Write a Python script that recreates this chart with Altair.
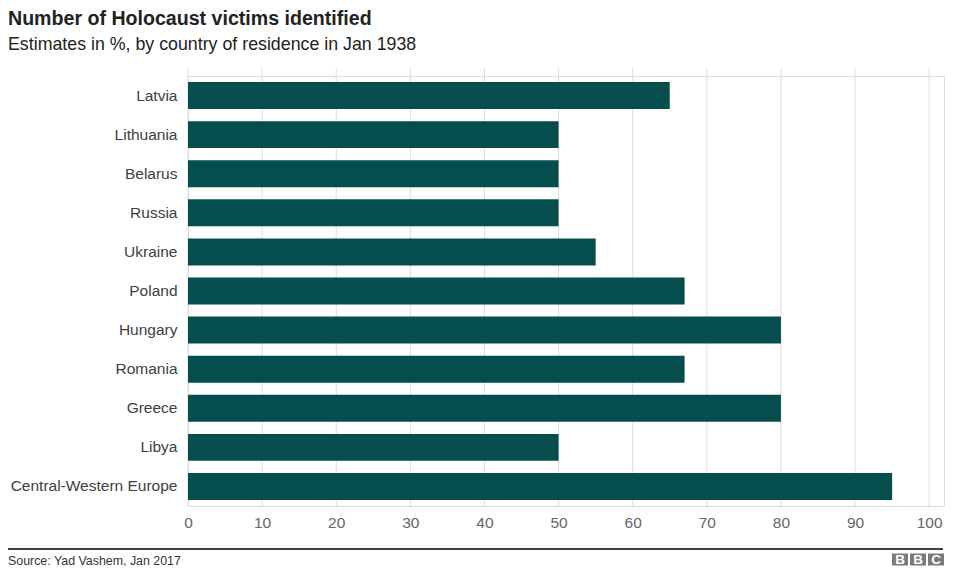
import altair as alt
import pandas as pd

countries = ["Latvia", "Lithuania", "Belarus", "Russia", "Ukraine", "Poland",
             "Hungary", "Romania", "Greece", "Libya", "Central-Western Europe"]
values = [65, 50, 50, 50, 55, 67, 80, 67, 80, 50, 95]
ticks = [0, 10, 20, 30, 40, 50, 60, 70, 80, 90, 100]

title = "Number of Holocaust victims identified"
subtitle = "Estimates in %, by country of residence in Jan 1938"
source = "Source: Yad Vashem, Jan 2017"
logo = ["B", "B", "C"]

FONT = "Liberation Sans"
W, H = 756, 430

df = pd.DataFrame({"country": countries, "value": values})
tdf = pd.DataFrame({"v": ticks})

xscale = alt.Scale(domain=[0, 102], nice=False, zero=True)

grid = alt.Chart(tdf).mark_rule(color="#dddddd", strokeWidth=1).encode(
    x=alt.X("v:Q", scale=xscale),
    y=alt.value(-8),
    y2=alt.value(H),
)

bars = alt.Chart(df).mark_bar(color="#064e4e").encode(
    x=alt.X("value:Q", scale=xscale,
            axis=alt.Axis(values=ticks, title=None, grid=False, ticks=False,
                          domainColor="#dddddd", domainWidth=1,
                          labelFontSize=15.5, labelColor="#666666",
                          labelPadding=9, labelFont=FONT, labelFlush=False)),
    y=alt.Y("country:N", sort=countries,
            scale=alt.Scale(paddingInner=0.31, paddingOuter=0.155),
            axis=alt.Axis(title=None, domain=False, ticks=False,
                          labelFontSize=15.5, labelColor="#404040",
                          labelPadding=11, labelFont=FONT)),
)

def txt(s, x, y, size, weight="normal", color="#222222"):
    return alt.Chart(pd.DataFrame({"t": [s]})).mark_text(
        align="left", baseline="alphabetic", font=FONT, fontSize=size,
        fontWeight=weight, color=color
    ).encode(text="t:N", x=alt.value(x), y=alt.value(y))

layers = [grid, bars,
          txt(title, -180, -51.5, 19.6, "bold", "#222222"),
          txt(subtitle, -180, -26.5, 17.8, "normal", "#222222"),
          txt(source, -180, 488.5, 12.4, "normal", "#333333")]

footer_line = alt.Chart(pd.DataFrame({"a": [0]})).mark_rule(
    color="#000000", strokeWidth=1.3
).encode(x=alt.value(-180), x2=alt.value(755), y=alt.value(473))
layers.append(footer_line)

for i, letter in enumerate(logo):
    x0 = 704 + i * 18
    box = alt.Chart(pd.DataFrame({"a": [0]})).mark_rect(color="#7a7a7a").encode(
        x=alt.value(x0), x2=alt.value(x0 + 16),
        y=alt.value(477.5), y2=alt.value(489.5))
    lt = alt.Chart(pd.DataFrame({"t": [letter]})).mark_text(
        align="center", baseline="middle", font=FONT, fontSize=13.5,
        fontWeight="bold", color="#ffffff"
    ).encode(text="t:N", x=alt.value(x0 + 8), y=alt.value(484))
    layers += [box, lt]

chart = alt.layer(*layers).properties(
    width=W, height=H,
    autosize=alt.AutoSizeParams(type="none"),
    padding={"left": 180, "top": 68, "right": 24, "bottom": 60},
).configure_view(stroke=None).configure(font=FONT)

chart.save("out.html", embed_options={"renderer": "svg", "actions": False})
